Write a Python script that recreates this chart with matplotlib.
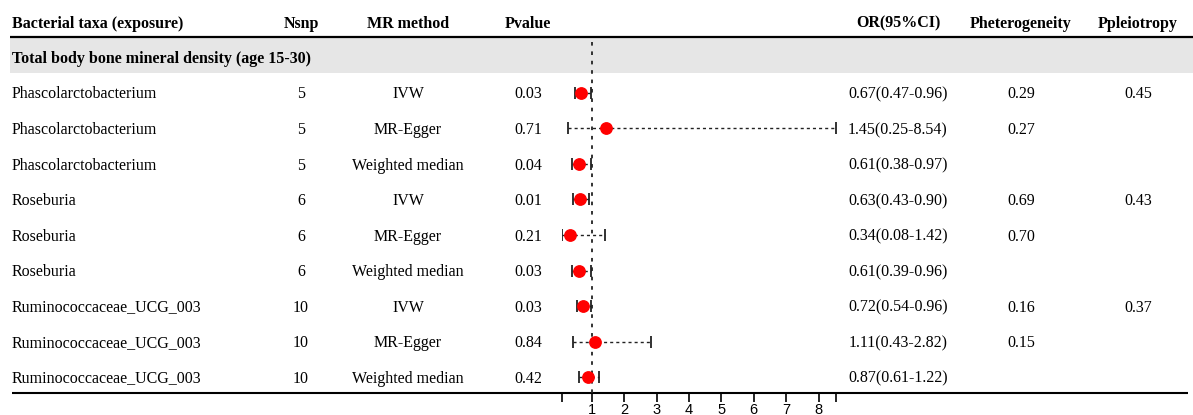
import matplotlib
matplotlib.use("Agg")
import matplotlib.pyplot as plt

# ---------------- data ----------------
headers = ["Bacterial taxa (exposure)", "Nsnp", "MR method", "Pvalue",
           "OR(95%CI)", "Pheterogeneity", "Ppleiotropy"]
section = "Total body bone mineral density (age 15-30)"
taxa = ["Phascolarctobacterium", "Phascolarctobacterium", "Phascolarctobacterium",
        "Roseburia", "Roseburia", "Roseburia",
        "Ruminococcaceae_UCG_003", "Ruminococcaceae_UCG_003", "Ruminococcaceae_UCG_003"]
nsnp = ["5", "5", "5", "6", "6", "6", "10", "10", "10"]
methods = ["IVW", "MR-Egger", "Weighted median"] * 3
pvalue = ["0.03", "0.71", "0.04", "0.01", "0.21", "0.03", "0.03", "0.84", "0.42"]
or_val = [0.67, 1.45, 0.61, 0.63, 0.34, 0.61, 0.72, 1.11, 0.87]
ci_lo = [0.47, 0.25, 0.38, 0.43, 0.08, 0.39, 0.54, 0.43, 0.61]
ci_hi = [0.96, 8.54, 0.97, 0.90, 1.42, 0.96, 0.96, 2.82, 1.22]
phet = ["0.29", "0.27", "", "0.69", "0.70", "", "0.16", "0.15", ""]
ppleio = ["0.45", "", "", "0.43", "", "", "0.37", "", ""]
xticks = [1, 2, 3, 4, 5, 6, 7, 8]

# ---------------- layout ----------------
W, H = 1193, 415
ROW0_PX, ROW_H = 22.0, 35.5          # pixel centre of header row, row spacing
def px2row(p):
    return (p - ROW0_PX) / ROW_H

fig = plt.figure(figsize=(W / 100, H / 100), dpi=100)
serif = "Liberation Serif"
fs = 11.5
BASE = 5.5 / ROW_H   # baseline offset below row centre

tab = fig.add_axes([0, 0, 1, 1])
tab.set_xlim(0, W)
tab.set_ylim(px2row(H), px2row(0))
tab.axis("off")

col_x = [12, 301, 408, 528, 898, 1021, 1138]
col_ha = ["left", "center", "center", "center", "center", "center", "center"]

# header
for x, ha, h in zip(col_x, col_ha, headers):
    tab.text(x, 0 + BASE, h, ha=ha, va="baseline", fontsize=fs, fontweight="bold", family=serif)
tab.plot([10, W], [px2row(37), px2row(37)], color="black", lw=1.6, solid_capstyle="butt")

# section band
tab.fill_between([10, W], px2row(38), px2row(73), color="#e6e6e6", lw=0, zorder=0)
tab.text(12, 1 + BASE, section, ha="left", va="baseline", fontsize=fs, fontweight="bold", family=serif)

# rows
for i in range(len(taxa)):
    r = i + 2
    ortxt = f"{or_val[i]:.2f}({ci_lo[i]:.2f}-{ci_hi[i]:.2f})"
    cells = [taxa[i], nsnp[i], methods[i], pvalue[i], ortxt, phet[i], ppleio[i]]
    for x, ha, c in zip(col_x, col_ha, cells):
        if c:
            tab.text(x, r + BASE, c, ha=ha, va="baseline", fontsize=fs, family=serif)

tab.plot([12, 1188], [px2row(393), px2row(393)], color="black", lw=1.5, solid_capstyle="butt")

# ---------------- forest panel ----------------
x0, x1 = 562, 836
y_top, y_bot = 37, 393
fax = fig.add_axes([x0 / W, (H - y_bot) / H, (x1 - x0) / W, (y_bot - y_top) / H])
fax.set_xlim(min(ci_lo), max(ci_hi))
fax.set_ylim(px2row(y_bot), px2row(y_top))
fax.patch.set_alpha(0)
for s in fax.spines.values():
    s.set_visible(False)
fax.axvline(1, color="#222222", lw=1.3, ls=(0, (2, 3.2)), zorder=1)

rows = [i + 2 for i in range(len(or_val))]
fax.hlines(rows, ci_lo, ci_hi, color="#222222", lw=1.0, ls=(0, (2.2, 2.2)), zorder=2)
fax.plot(ci_lo, rows, ls="none", marker="|", ms=9, mew=1.3, color="#222222", zorder=3)
fax.plot(ci_hi, rows, ls="none", marker="|", ms=9, mew=1.3, color="#222222", zorder=3)
fax.plot(or_val, rows, ls="none", marker="o", ms=8.2, color="#ff0000", mec="#ff0000", zorder=4)

ticks = [min(ci_lo)] + xticks + [max(ci_hi)]
fax.set_xticks(ticks)
fax.set_xticklabels([""] + [str(t) for t in xticks] + [""], family="Liberation Sans", fontsize=10.5)
fax.tick_params(axis="x", direction="out", length=6.5, width=1.2, pad=0.5, colors="black")
fax.set_yticks([])

fig.savefig("out.png", dpi=100)
